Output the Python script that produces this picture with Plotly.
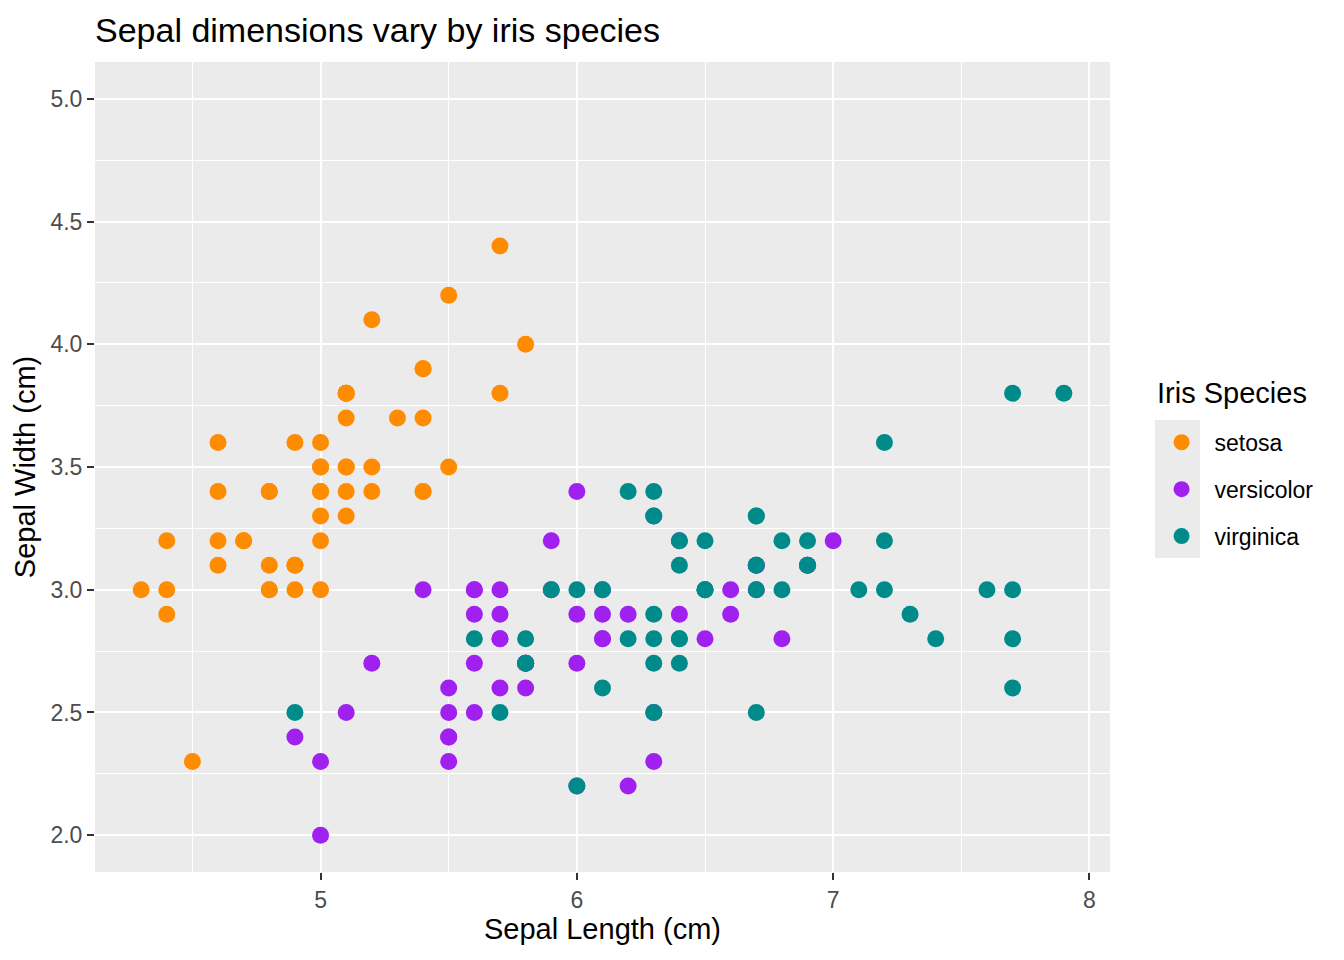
import plotly.graph_objects as go

# iris sepal measurements (cm), by species
setosa_len = [5.1, 4.9, 4.7, 4.6, 5.0, 5.4, 4.6, 5.0, 4.4, 4.9, 5.4, 4.8, 4.8, 4.3, 5.8, 5.7, 5.4,
              5.1, 5.7, 5.1, 5.4, 5.1, 4.6, 5.1, 4.8, 5.0, 5.0, 5.2, 5.2, 4.7, 4.8, 5.4, 5.2, 5.5,
              4.9, 5.0, 5.5, 4.9, 4.4, 5.1, 5.0, 4.5, 4.4, 5.0, 5.1, 4.8, 5.1, 4.6, 5.3, 5.0]
setosa_wid = [3.5, 3.0, 3.2, 3.1, 3.6, 3.9, 3.4, 3.4, 2.9, 3.1, 3.7, 3.4, 3.0, 3.0, 4.0, 4.4, 3.9,
              3.5, 3.8, 3.8, 3.4, 3.7, 3.6, 3.3, 3.4, 3.0, 3.4, 3.5, 3.4, 3.2, 3.1, 3.4, 4.1, 4.2,
              3.1, 3.2, 3.5, 3.6, 3.0, 3.4, 3.5, 2.3, 3.2, 3.5, 3.8, 3.0, 3.8, 3.2, 3.7, 3.3]
versicolor_len = [7.0, 6.4, 6.9, 5.5, 6.5, 5.7, 6.3, 4.9, 6.6, 5.2, 5.0, 5.9, 6.0, 6.1, 5.6, 6.7, 5.6,
                  5.8, 6.2, 5.6, 5.9, 6.1, 6.3, 6.1, 6.4, 6.6, 6.8, 6.7, 6.0, 5.7, 5.5, 5.5, 5.8, 6.0,
                  5.4, 6.0, 6.7, 6.3, 5.6, 5.5, 5.5, 6.1, 5.8, 5.0, 5.6, 5.7, 5.7, 6.2, 5.1, 5.7]
versicolor_wid = [3.2, 3.2, 3.1, 2.3, 2.8, 2.8, 3.3, 2.4, 2.9, 2.7, 2.0, 3.0, 2.2, 2.9, 2.9, 3.1, 3.0,
                  2.7, 2.2, 2.5, 3.2, 2.8, 2.5, 2.8, 2.9, 3.0, 2.8, 3.0, 2.9, 2.6, 2.4, 2.4, 2.7, 2.7,
                  3.0, 3.4, 3.1, 2.3, 3.0, 2.5, 2.6, 3.0, 2.6, 2.3, 2.7, 3.0, 2.9, 2.9, 2.5, 2.8]
virginica_len = [6.3, 5.8, 7.1, 6.3, 6.5, 7.6, 4.9, 7.3, 6.7, 7.2, 6.5, 6.4, 6.8, 5.7, 5.8, 6.4, 6.5,
                 7.7, 7.7, 6.0, 6.9, 5.6, 7.7, 6.3, 6.7, 7.2, 6.2, 6.1, 6.4, 7.2, 7.4, 7.9, 6.4, 6.3,
                 6.1, 7.7, 6.3, 6.4, 6.0, 6.9, 6.7, 6.9, 5.8, 6.8, 6.7, 6.7, 6.3, 6.5, 6.2, 5.9]
virginica_wid = [3.3, 2.7, 3.0, 2.9, 3.0, 3.0, 2.5, 2.9, 2.5, 3.6, 3.2, 2.7, 3.0, 2.5, 2.8, 3.2, 3.0,
                 3.8, 2.6, 2.2, 3.2, 2.8, 2.8, 2.7, 3.3, 3.2, 2.8, 3.0, 2.8, 3.0, 2.8, 3.8, 2.8, 2.8,
                 2.6, 3.0, 3.4, 3.1, 3.0, 3.1, 3.1, 3.1, 2.7, 3.2, 3.3, 3.0, 2.5, 3.0, 3.4, 3.0]

species = ["setosa", "versicolor", "virginica"]
colors = ["#FF8C00", "#A020F0", "#008B8B"]
lengths = [setosa_len, versicolor_len, virginica_len]
widths = [setosa_wid, versicolor_wid, virginica_wid]

fig = go.Figure()
for name, col, xs, ys in zip(species, colors, lengths, widths):
    fig.add_trace(go.Scatter(
        x=xs, y=ys, mode="markers", name=name, legendgroup=name,
        marker=dict(color=col, size=17, line=dict(width=0)),
    ))

font = "Liberation Sans, Arial, sans-serif"
axis_common = dict(
    showgrid=True, gridcolor="white", gridwidth=1.6,
    zeroline=False, showline=False,
    ticks="outside", ticklen=7, tickcolor="#333333", tickwidth=1.5,
    tickfont=dict(size=23, color="#4D4D4D", family=font),
)

# page body adds 8px offset, so the figure is 8px smaller and shifted
fig.update_layout(
    width=1336, height=952,
    paper_bgcolor="white", plot_bgcolor="#EBEBEB",
    margin=dict(l=87, r=234, t=54, b=88),
    font=dict(family=font, color="black"),
    title=dict(text="Sepal dimensions vary by iris species", x=0, xref="paper", xanchor="left",
               y=1 - 22 / 952, yref="container", yanchor="middle",
               font=dict(size=34, color="black")),
    xaxis=dict(axis_common, range=[4.12, 8.08], tickvals=[5, 6, 7, 8],
               minor=dict(tickvals=[4.5, 5.5, 6.5, 7.5], showgrid=True, gridcolor="white",
                          gridwidth=0.8, ticks=""),
               title=dict(text="Sepal Length (cm)", font=dict(size=29), standoff=6)),
    yaxis=dict(axis_common, range=[1.85, 5.15], tickvals=[2.0, 2.5, 3.0, 3.5, 4.0, 4.5, 5.0],
               ticktext=["2.0", "2.5", "3.0", "3.5", "4.0", "4.5", "5.0"],
               minor=dict(tickvals=[2.25, 2.75, 3.25, 3.75, 4.25, 4.75], showgrid=True,
                          gridcolor="white", gridwidth=0.8, ticks=""),
               title=dict(text="Sepal Width (cm)", font=dict(size=29), standoff=6)),
    legend=dict(
        font=dict(size=23), x=1.038, xanchor="left", y=0.557, yanchor="top",
        bgcolor="rgba(0,0,0,0)", tracegroupgap=14, itemwidth=56,
    ),
    annotations=[dict(text="Iris Species", xref="paper", yref="paper",
                      x=(1155 - 95) / 1015, y=(872 - 393) / 810,
                      xanchor="left", yanchor="middle", showarrow=False,
                      font=dict(size=29, color="black"))],
    shapes=[dict(type="rect", xref="paper", yref="paper",
                 x0=(1155 - 95) / 1015, x1=(1200 - 95) / 1015,
                 y0=(872 - 558) / 810, y1=(872 - 420) / 810,
                 fillcolor="#EBEBEB", line=dict(width=0), layer="below")],
)

fig.write_html("out.html")
